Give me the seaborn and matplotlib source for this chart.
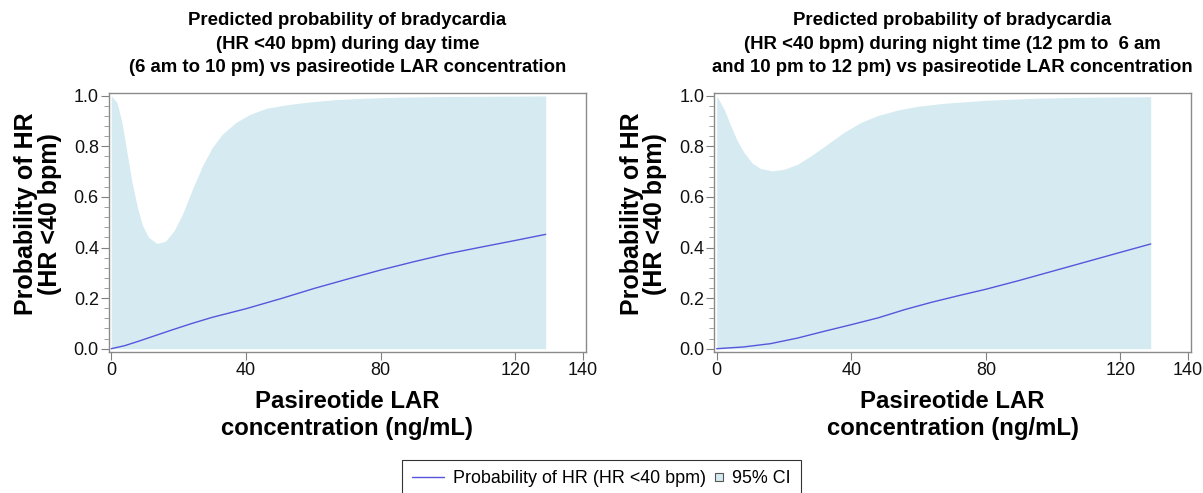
import numpy as np
import pandas as pd
import matplotlib
matplotlib.use("Agg")
import matplotlib.pyplot as plt
from matplotlib.lines import Line2D
from matplotlib.patches import Patch, Rectangle
from matplotlib.legend_handler import HandlerPatch
from matplotlib.ticker import MultipleLocator
import seaborn as sns

# day time panel: 95% CI band
day_x = [0, 1.7, 3.2, 4.7, 6.2, 7.7, 9.2, 11.1, 13.6, 16.1, 18.6, 21.1, 24.1, 27.1, 30, 33, 37, 41, 46,
         52, 58, 66, 75, 85, 100, 115, 129]
day_upper = [1.0, 0.974, 0.894, 0.775, 0.657, 0.564, 0.49, 0.44, 0.416, 0.425, 0.465, 0.53, 0.63, 0.723,
             0.795, 0.848, 0.894, 0.925, 0.95, 0.964, 0.974, 0.984, 0.99, 0.994, 0.997, 0.998, 0.999]
day_lower = [0.0] * len(day_x)
# day time panel: predicted probability
day_line_x = [0, 4, 8, 12, 18, 24, 30, 35.6, 40, 50.4, 60.2, 70.1, 80, 89.9, 99.8, 109.6, 120, 129]
day_line_y = [0.0, 0.012, 0.029, 0.047, 0.074, 0.1, 0.124, 0.143, 0.158, 0.198, 0.238, 0.275, 0.311,
              0.344, 0.375, 0.401, 0.428, 0.452]

# night time panel: 95% CI band
night_x = [0, 2.2, 4.2, 6.1, 8.1, 10.6, 13.1, 16.5, 20, 24, 28, 32.9, 37.8, 42.8, 47.7, 53.7, 59.6,
           67.5, 80, 95, 110, 129]
night_upper = [1.0, 0.947, 0.881, 0.822, 0.776, 0.733, 0.712, 0.703, 0.709, 0.729, 0.762, 0.808, 0.855,
               0.894, 0.921, 0.943, 0.958, 0.97, 0.982, 0.99, 0.994, 0.996]
night_lower = [0.0] * len(night_x)
# night time panel: predicted probability
night_line_x = [0, 8, 16, 24, 32, 40, 48, 56, 64, 72, 80, 90, 100, 110, 120, 129]
night_line_y = [0.0, 0.007, 0.02, 0.042, 0.069, 0.095, 0.122, 0.155, 0.184, 0.21, 0.235, 0.27, 0.307,
                0.344, 0.381, 0.414]

titles = [
    "Predicted probability of bradycardia\n(HR <40 bpm) during day time\n(6 am to 10 pm) vs pasireotide LAR concentration",
    "Predicted probability of bradycardia\n(HR <40 bpm) during night time (12 pm to  6 am\nand 10 pm to 12 pm) vs pasireotide LAR concentration",
]

line_color = "#5656dc"
fill_color = "#d5ebf1"

sns.set_style("white")
plt.rcParams["font.family"] = ["Liberation Sans", "DejaVu Sans"]
plt.rcParams["text.color"] = "black"
plt.rcParams["axes.labelcolor"] = "black"

fig = plt.figure(figsize=(12.03, 4.93), dpi=100)
ax1 = fig.add_axes([0.0902, 0.286, 0.397, 0.525])
ax2 = fig.add_axes([0.5935, 0.286, 0.3966, 0.525])

panels = [
    (ax1, day_x, day_lower, day_upper, day_line_x, day_line_y, titles[0]),
    (ax2, night_x, night_lower, night_upper, night_line_x, night_line_y, titles[1]),
]

for ax, cx, lo, hi, lx, ly, title in panels:
    ax.fill_between(cx, lo, hi, color=fill_color, linewidth=0)
    df = pd.DataFrame({"conc": lx, "prob": ly})
    sns.lineplot(data=df, x="conc", y="prob", ax=ax, color=line_color, linewidth=1)
    ax.set_xlim(-0.8, 141)
    ax.set_ylim(-0.013, 1.01)
    ax.set_xticks([0, 40, 80, 120, 140])
    ax.set_yticks([0.0, 0.2, 0.4, 0.6, 0.8, 1.0])
    ax.set_yticklabels(["0.0", "0.2", "0.4", "0.6", "0.8", "1.0"])
    ax.yaxis.set_minor_locator(MultipleLocator(0.04))
    ax.tick_params(axis="both", which="major", labelsize=13, length=6, width=0.8,
                   color="#808080", labelcolor="#111111", left=True, bottom=True, pad=1)
    ax.tick_params(axis="y", which="minor", length=3.5, width=0.6, color="#909090", left=True)
    for s in ax.spines.values():
        s.set_color("#8a8a8a")
        s.set_linewidth(1)
    ax.set_xlabel("Pasireotide LAR\nconcentration (ng/mL)", fontsize=17.2, fontweight="bold",
                  labelpad=8, linespacing=1.25)
    ax.set_ylabel("Probability of HR\n(HR <40 bpm)", fontsize=18, fontweight="bold",
                  linespacing=0.97)
    ax.yaxis.set_label_coords(-0.098, 0.533)
    ax.set_title(title, fontsize=13.4, fontweight="bold", pad=15, linespacing=1.5)


def square_at_end(legend, orig_handle, xdescent, ydescent, width, height, fontsize):
    s = 0.45 * fontsize
    return Rectangle((width - xdescent - s, height / 2 - ydescent - s / 2), s, s)


handles = [
    Line2D([0], [0], color=line_color, linewidth=1),
    Patch(facecolor=fill_color, edgecolor="#555555", linewidth=0.8),
]
leg = fig.legend(handles, ["Probability of HR (HR <40 bpm)", "95% CI"], loc="upper center",
                 bbox_to_anchor=(0.5, 0.067), ncol=2, frameon=True, fancybox=False,
                 fontsize=12.9, handlelength=1.8, columnspacing=-0.85,
                 handletextpad=0.5, borderpad=0.55, borderaxespad=0,
                 handler_map={Patch: HandlerPatch(patch_func=square_at_end)})
leg.get_frame().set_edgecolor("black")
leg.get_frame().set_linewidth(0.8)

fig.savefig("out.png", dpi=100)
